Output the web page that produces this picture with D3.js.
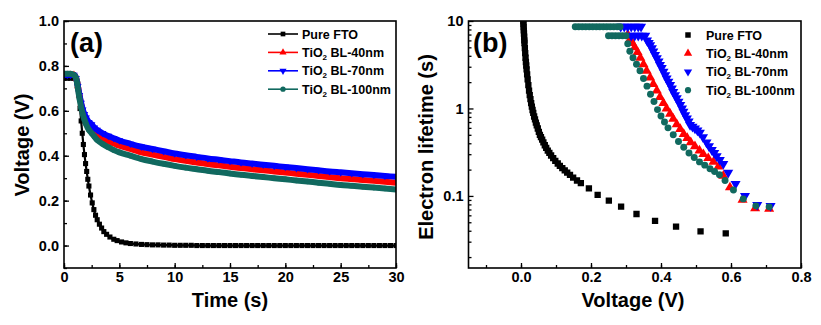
<!DOCTYPE html>
<html>
<head>
<meta charset="utf-8">
<script src="https://cdn.jsdelivr.net/npm/d3@7"></script>
<style>
  body { margin: 0; background: #fff; }
  text { font-family: "Liberation Sans", Arial, sans-serif; font-weight: bold; }
</style>
</head>
<body>
<div id="container"></div>
<script>
//Series names + colours
const seriesNames = ['Pure FTO', 'BL-40nm', 'BL-70nm', 'BL-100nm'];
const seriesColors = ['#000000', '#ff0000', '#0000ff', '#11695f'];

//(a) Pure FTO decay: time (s) and voltage (V)
const timeFto = [0, 0.3, 0.6, 0.9, 1.1, 1.25, 1.35, 1.45, 1.55, 1.65, 1.75, 1.85, 1.95, 2.05, 2.15, 2.25, 2.4, 2.55,
  2.7, 2.85, 3.0, 3.2, 3.4, 3.6, 3.85, 4.15, 4.5, 4.8, 5.2, 5.6, 6.0, 6.5, 7.0, 7.5, 8.0, 8.5, 9.0, 9.5, 10, 10.5, 11,
  11.5, 12, 12.5, 13, 13.5, 14, 14.5, 15, 15.5, 16, 16.5, 17, 17.5, 18, 18.5, 19, 19.5, 20, 20.5, 21, 21.5, 22, 22.5,
  23, 23.5, 24, 24.5, 25, 25.5, 26, 26.5, 27, 27.5, 28, 28.5, 29, 29.5, 30];
const voltFto = [0.745, 0.745, 0.745, 0.745, 0.742, 0.72, 0.67, 0.61, 0.555, 0.5, 0.45, 0.405, 0.365, 0.33, 0.295, 0.265,
  0.225, 0.19, 0.16, 0.135, 0.115, 0.095, 0.078, 0.062, 0.05, 0.038, 0.028, 0.022, 0.016, 0.012, 0.009, 0.007, 0.005,
  0.004, 0.003, 0.003, 0.002, 0.002, 0.001, 0.001, 0.001, 0.001, 0, 0, 0, 0, 0, 0, 0, 0, 0, 0, 0, 0, 0, 0, 0, 0, 0, 0,
  0, 0, 0, 0, 0, 0, 0, 0, 0, 0, 0, 0, 0, 0, 0, 0, 0, 0, 0];

//(a) TiO2 blocking layers: shared time axis
const timeTio = [0, 0.3, 0.6, 0.9, 1.1, 1.25, 1.4, 1.55, 1.7, 1.85, 2.0, 2.25, 2.5, 2.75, 3.0, 3.5, 4.0, 4.5, 5, 6, 7,
  8, 9, 10, 11, 12, 13, 14, 15, 16, 17, 18, 19, 20, 21, 22, 23, 24, 25, 26, 27, 28, 29, 30];
const volt40 = [0.76, 0.76, 0.76, 0.76, 0.745, 0.71, 0.67, 0.63, 0.6, 0.575, 0.555, 0.535, 0.52, 0.505, 0.495, 0.48,
  0.465, 0.455, 0.445, 0.43, 0.415, 0.405, 0.395, 0.385, 0.377, 0.37, 0.363, 0.357, 0.351, 0.345, 0.34, 0.335, 0.33,
  0.325, 0.32, 0.315, 0.31, 0.305, 0.3, 0.296, 0.292, 0.288, 0.284, 0.28];
const volt70 = [0.76, 0.76, 0.76, 0.76, 0.745, 0.71, 0.67, 0.635, 0.605, 0.585, 0.57, 0.55, 0.54, 0.525, 0.515, 0.5,
  0.488, 0.478, 0.468, 0.453, 0.44, 0.43, 0.42, 0.41, 0.402, 0.395, 0.388, 0.382, 0.376, 0.37, 0.365, 0.36, 0.355,
  0.35, 0.345, 0.34, 0.335, 0.33, 0.326, 0.322, 0.318, 0.314, 0.31, 0.306];
const volt100 = [0.765, 0.765, 0.765, 0.76, 0.745, 0.7, 0.655, 0.615, 0.585, 0.56, 0.54, 0.515, 0.5, 0.485, 0.47, 0.452,
  0.438, 0.425, 0.415, 0.4, 0.385, 0.374, 0.364, 0.355, 0.347, 0.34, 0.333, 0.327, 0.321, 0.315, 0.31, 0.305, 0.3,
  0.295, 0.29, 0.285, 0.28, 0.275, 0.27, 0.266, 0.262, 0.258, 0.254, 0.25];

//(b) Electron lifetime (s) vs voltage (V)
const voltLtFto = [0.0065, 0.007, 0.0075, 0.008, 0.0085, 0.009, 0.0095, 0.010, 0.011, 0.012, 0.013, 0.014, 0.015, 0.016,
  0.0175, 0.019, 0.021, 0.023, 0.025, 0.027, 0.029, 0.031, 0.033, 0.035, 0.0375, 0.040, 0.0425, 0.045, 0.048, 0.051,
  0.054, 0.057, 0.0605, 0.064, 0.068, 0.072, 0.0765, 0.081, 0.086, 0.092, 0.098, 0.105, 0.111, 0.118, 0.125, 0.132,
  0.14, 0.149, 0.16, 0.171, 0.194, 0.219, 0.251, 0.286, 0.33, 0.383, 0.443, 0.513, 0.585];
const lifeFto = [10, 9.2, 8.5, 7.8, 7.2, 6.6, 6.0, 5.6, 4.9, 4.3, 3.8, 3.4, 3.1, 2.8, 2.45, 2.15, 1.85, 1.6, 1.42, 1.28,
  1.15, 1.05, 0.96, 0.89, 0.81, 0.75, 0.69, 0.64, 0.59, 0.54, 0.5, 0.47, 0.44, 0.41, 0.38, 0.355, 0.33, 0.31, 0.29,
  0.27, 0.252, 0.235, 0.221, 0.208, 0.196, 0.185, 0.174, 0.162, 0.15, 0.14, 0.122, 0.103, 0.0885, 0.0756, 0.0622,
  0.0518, 0.0446, 0.0394, 0.0374];

const voltLt40 = [0.305, 0.312, 0.318, 0.325, 0.333, 0.341, 0.35, 0.359, 0.369, 0.378, 0.388, 0.397, 0.407, 0.416,
  0.426, 0.435, 0.445, 0.455, 0.465, 0.475, 0.485, 0.497, 0.51, 0.521, 0.535, 0.55, 0.564, 0.578, 0.597, 0.633, 0.669, 0.709];
const life40 = [7.0, 6.2, 5.6, 5.0, 4.4, 3.8, 3.2, 2.7, 2.25, 1.9, 1.6, 1.35, 1.15, 1.0, 0.87, 0.76, 0.66, 0.58, 0.51,
  0.46, 0.41, 0.37, 0.33, 0.3, 0.27, 0.245, 0.216, 0.17, 0.125, 0.09, 0.072, 0.071];

const voltLt70 = [0.285, 0.295, 0.305, 0.315, 0.325, 0.335, 0.343, 0.315, 0.325, 0.335, 0.345, 0.355, 0.36, 0.365,
  0.369, 0.374, 0.378, 0.383, 0.388, 0.393, 0.397, 0.402, 0.407, 0.412, 0.416, 0.421, 0.426, 0.431, 0.435, 0.44, 0.445,
  0.45, 0.455, 0.46, 0.464, 0.469, 0.474, 0.479, 0.483, 0.49, 0.497, 0.504, 0.511, 0.52, 0.53, 0.537, 0.545, 0.552,
  0.559, 0.568, 0.578, 0.592, 0.613, 0.64, 0.675, 0.713];
const life70 = [8.6, 8.6, 8.6, 8.6, 8.6, 8.6, 8.6, 6.8, 6.8, 6.8, 6.8, 6.8, 6.0, 5.6, 5.3, 4.9, 4.5, 4.1, 3.75, 3.45,
  3.15, 2.9, 2.63, 2.4, 2.2, 2.02, 1.86, 1.7, 1.55, 1.42, 1.31, 1.2, 1.1, 1.0, 0.92, 0.84, 0.77, 0.71, 0.65, 0.62, 0.59,
  0.56, 0.53, 0.47, 0.41, 0.37, 0.336, 0.31, 0.284, 0.258, 0.232, 0.185, 0.137, 0.1, 0.079, 0.077];

const voltLt100 = [0.155, 0.165, 0.175, 0.185, 0.195, 0.205, 0.215, 0.225, 0.235, 0.245, 0.255, 0.265, 0.275, 0.283,
  0.25, 0.26, 0.27, 0.28, 0.29, 0.3, 0.305, 0.311, 0.32, 0.33, 0.34, 0.35, 0.36, 0.37, 0.38, 0.39, 0.4, 0.41, 0.42,
  0.435, 0.45, 0.465, 0.48, 0.495, 0.51, 0.525, 0.54, 0.553, 0.567, 0.583, 0.607, 0.635, 0.671, 0.709];
const life100 = [8.6, 8.6, 8.6, 8.6, 8.6, 8.6, 8.6, 8.6, 8.6, 8.6, 8.6, 8.6, 8.6, 8.6, 6.8, 6.8, 6.8, 6.8, 6.8, 6.8,
  5.5, 4.5, 3.8, 3.2, 2.7, 2.2, 1.8, 1.45, 1.2, 0.97, 0.82, 0.7, 0.6, 0.5, 0.42, 0.36, 0.31, 0.275, 0.245, 0.225, 0.205,
  0.19, 0.175, 0.15, 0.117, 0.0925, 0.077, 0.075];

//Tick values
const ticksTime = [0, 5, 10, 15, 20, 25, 30];
const ticksVoltA = [0.0, 0.2, 0.4, 0.6, 0.8, 1.0];
const ticksVoltB = [0.0, 0.2, 0.4, 0.6, 0.8];
const ticksLife = [0.1, 1, 10];

//SVG
const width = 821;
const height = 325;
const svg = d3.select('#container').append('svg')
  .attr('width', width)
  .attr('height', height);

//Markers for each series
const symbols = [d3.symbolSquare, d3.symbolTriangle, d3.symbolTriangle, d3.symbolCircle];
const rotations = [0, 0, 180, 0];

function marker(g, i, x, y, size) {
  g.append('path')
    .attr('d', d3.symbol().type(symbols[i]).size(size)())
    .attr('transform', `translate(${x},${y}) rotate(${rotations[i]})`)
    .attr('fill', seriesColors[i]);
}

//Legend label with subscript 2
function legendText(g, i, x, y) {
  const t = g.append('text')
    .attr('x', x)
    .attr('y', y + 4.5)
    .attr('font-size', 12.5);
  if (i === 0) {
    t.text(seriesNames[0]);
  } else {
    t.append('tspan').text('TiO');
    t.append('tspan').attr('font-size', 8).attr('dy', 3).text('2');
    t.append('tspan').attr('dy', -3).text(' ' + seriesNames[i]);
  }
}

// ---------------- panel (a) ----------------
const xA = d3.scaleLinear().domain([0, 30]).range([64, 396]);
const yA = d3.scaleLinear().domain([-0.1, 1.0]).range([268, 21]);

svg.append('defs').append('clipPath').attr('id', 'clipA')
  .append('rect').attr('x', 64).attr('y', 21).attr('width', 332).attr('height', 247);
svg.select('defs').append('clipPath').attr('id', 'clipB')
  .append('rect').attr('x', 468.5).attr('y', 21).attr('width', 332.5).attr('height', 247);

const seriesA = [
  d3.zip(timeFto, voltFto),
  d3.zip(timeTio, volt40),
  d3.zip(timeTio, volt70),
  d3.zip(timeTio, volt100)
];

const plotA = svg.append('g').attr('clip-path', 'url(#clipA)');
const lineA = d3.line().x(d => xA(d[0])).y(d => yA(d[1])).curve(d3.curveMonotoneX);

seriesA.forEach((pts, i) => {
  plotA.append('path')
    .datum(pts)
    .attr('d', lineA)
    .attr('fill', 'none')
    .attr('stroke', seriesColors[i])
    .attr('stroke-width', i === 0 ? 2.2 : 6);
  pts.forEach(d => marker(plotA, i, xA(d[0]), yA(d[1]), i === 0 ? 26 : 24));
});

//Axes (inward ticks)
svg.append('g')
  .attr('transform', 'translate(0,268)')
  .call(d3.axisBottom(xA).tickValues(d3.range(0, 30.1, 2.5)).tickFormat('').tickSizeInner(-3).tickSizeOuter(0));
svg.append('g')
  .attr('transform', 'translate(0,268)')
  .call(d3.axisBottom(xA).tickValues(ticksTime).tickFormat(d3.format('d')).tickSizeInner(-5).tickSizeOuter(0).tickPadding(4));
svg.append('g')
  .attr('transform', 'translate(64,0)')
  .call(d3.axisLeft(yA).tickValues(d3.range(-0.1, 1.01, 0.1)).tickFormat('').tickSizeInner(-3).tickSizeOuter(0));
svg.append('g')
  .attr('transform', 'translate(64,0)')
  .call(d3.axisLeft(yA).tickValues(ticksVoltA).tickFormat(d3.format('.1f')).tickSizeInner(-5).tickSizeOuter(0).tickPadding(5));

svg.append('rect')
  .attr('x', 64).attr('y', 21).attr('width', 332).attr('height', 247)
  .attr('fill', 'none').attr('stroke', '#000').attr('stroke-width', 1.6);

svg.append('text').attr('x', 70).attr('y', 52).attr('font-size', 27).text('(a)');

//Axis titles (a)
svg.append('text')
  .attr('x', 230).attr('y', 307)
  .attr('text-anchor', 'middle').attr('font-size', 20)
  .text('Time (s)');
svg.append('text')
  .attr('transform', 'translate(29,145) rotate(-90)')
  .attr('text-anchor', 'middle').attr('font-size', 20)
  .text('Voltage (V)');

//Legend (a)
const legA = svg.append('g');
seriesNames.forEach((n, i) => {
  const y = 34 + i * 18.4;
  legA.append('line')
    .attr('x1', 268).attr('x2', 298).attr('y1', y).attr('y2', y)
    .attr('stroke', seriesColors[i]).attr('stroke-width', 1.6);
  marker(legA, i, 283, y, 22);
  legendText(legA, i, 302, y);
});

// ---------------- panel (b) ----------------
const xB = d3.scaleLinear().domain([-0.15, 0.8]).range([468.5, 801]);
const yB = d3.scaleLog().domain([0.015, 10]).range([268, 21]);

const seriesB = [
  d3.zip(voltLtFto, lifeFto),
  d3.zip(voltLt40, life40),
  d3.zip(voltLt70, life70),
  d3.zip(voltLt100, life100)
];

const bSizes = [40, 44, 44, 38];
const plotB = svg.append('g').attr('clip-path', 'url(#clipB)');
seriesB.forEach((pts, i) => {
  pts.forEach(d => marker(plotB, i, xB(d[0]), yB(d[1]), bSizes[i]));
});

//Axes (b)
svg.append('g')
  .attr('transform', 'translate(0,268)')
  .call(d3.axisBottom(xB).tickValues(d3.range(-0.1, 0.81, 0.1)).tickFormat('').tickSizeInner(-3).tickSizeOuter(0));
svg.append('g')
  .attr('transform', 'translate(0,268)')
  .call(d3.axisBottom(xB).tickValues(ticksVoltB).tickFormat(d3.format('.1f')).tickSizeInner(-5).tickSizeOuter(0).tickPadding(4));

const minorLife = [];
[0.01, 0.1, 1].forEach(dec => d3.range(2, 10).forEach(k => {
  const v = +(dec * k).toPrecision(2);
  if (v >= 0.015 && v < 10) minorLife.push(v);
}));
svg.append('g')
  .attr('transform', 'translate(468.5,0)')
  .call(d3.axisLeft(yB).tickValues(minorLife).tickFormat('').tickSizeInner(-3).tickSizeOuter(0));
svg.append('g')
  .attr('transform', 'translate(468.5,0)')
  .call(d3.axisLeft(yB).tickValues(ticksLife).tickFormat(d => d < 1 ? '0.1' : String(d)).tickSizeInner(-5).tickSizeOuter(0).tickPadding(5));

svg.append('rect')
  .attr('x', 468.5).attr('y', 21).attr('width', 332.5).attr('height', 247)
  .attr('fill', 'none').attr('stroke', '#000').attr('stroke-width', 1.6);

svg.append('text').attr('x', 473).attr('y', 52).attr('font-size', 27).text('(b)');

svg.append('text')
  .attr('x', 633).attr('y', 307)
  .attr('text-anchor', 'middle').attr('font-size', 20)
  .text('Voltage (V)');
svg.append('text')
  .attr('transform', 'translate(433,147) rotate(-90)')
  .attr('text-anchor', 'middle').attr('font-size', 20)
  .text('Electron lifetime (s)');

//Legend (b)
const legB = svg.append('g');
seriesNames.forEach((n, i) => {
  const y = 35 + i * 18.4;
  marker(legB, i, 688, y, 30);
  legendText(legB, i, 706, y);
});

//Tick label style
svg.selectAll('.tick text').attr('font-size', 14.5).attr('fill', '#000')
  .style('font-family', '"Liberation Sans", Arial, sans-serif').style('font-weight', 'bold');
svg.selectAll('.tick line').attr('stroke-width', 1.3);
svg.selectAll('.domain').remove();
</script>
</body>
</html>
